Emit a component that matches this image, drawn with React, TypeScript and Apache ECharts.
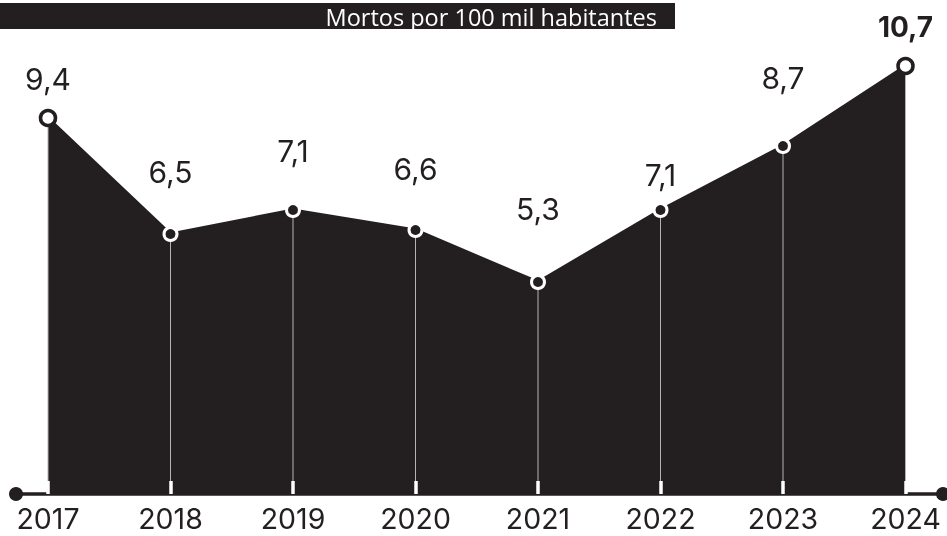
import React, { useEffect, useRef } from "react";
import * as echarts from "echarts";

const years = ["2017", "2018", "2019", "2020", "2021", "2022", "2023", "2024"];
const rates = [9.4, 6.5, 7.1, 6.6, 5.3, 7.1, 8.7, 10.7];
const unitTitle = "Mortos por 100 mil habitantes";

// styling: vertical shift of each value label relative to its point
const labelShift = [-39, -62, -59, -61, -73, -35, -68, -39];

const INK = "#231f20";

const fmt = (v: number) => v.toFixed(1).replace(".", ",");

export default function App() {
  const ref = useRef<HTMLDivElement>(null);

  useEffect(() => {
    if (!ref.current) return;
    const chart = echarts.init(ref.current, undefined, { renderer: "svg" });
    const last = rates.length - 1;

    const pointData = rates.map((v, i) => {
      const isEnd = i === 0 || i === last;
      return {
        value: v,
        symbolSize: isEnd ? 15 : 13,
        itemStyle: isEnd
          ? { color: "#ffffff", borderColor: INK, borderWidth: 3.5 }
          : { color: INK, borderColor: "#ffffff", borderWidth: 3 },
        label: {
          show: true,
          position: "inside",
          offset: [0, labelShift[i]],
          formatter: () => fmt(v),
          fontFamily: "Inter",
          fontSize: i === last ? 28 : 30,
          fontWeight: i === last ? "bold" : "normal",
          color: INK,
          lineHeight: 30,
        },
      };
    });

    chart.setOption({
      animation: false,
      grid: [
        { left: 48, right: 41.5, top: 14, bottom: 42 },
        { left: 16, right: 4, top: 14, bottom: 42 },
      ],
      xAxis: [
        {
          type: "category",
          data: years,
          boundaryGap: false,
          gridIndex: 0,
          z: 10,
          axisLine: { show: false },
          axisTick: {
            show: true,
            inside: true,
            length: 13,
            interval: 0,
            lineStyle: { color: "#ffffff", width: 3.5 },
          },
          axisLabel: {
            interval: 0,
            margin: 12,
            fontFamily: "Inter",
            fontSize: 28.5,
            lineHeight: 25,
            color: INK,
          },
          splitLine: { show: false },
        },
        {
          type: "value",
          gridIndex: 1,
          min: 0,
          max: 1,
          z: 9,
          axisLine: {
            show: true,
            symbol: ["circle", "circle"],
            symbolSize: [14, 14],
            lineStyle: { color: INK, width: 3.5 },
          },
          axisTick: { show: false },
          axisLabel: { show: false },
          splitLine: { show: false },
        },
      ],
      yAxis: [
        { type: "value", gridIndex: 0, min: 0, max: 12, show: false },
        { type: "value", gridIndex: 1, min: 0, max: 1, show: false },
      ],
      graphic: [
        {
          type: "rect",
          left: 0,
          top: 3,
          shape: { width: 675, height: 26 },
          style: { fill: INK },
          z: 20,
        },
        {
          type: "text",
          x: 657,
          y: 17,
          z: 21,
          style: {
            text: unitTitle,
            align: "right",
            verticalAlign: "middle",
            fontFamily: "Open Sans",
            fontSize: 23.5,
            fill: "#ffffff",
          },
        },
      ],
      series: [
        {
          type: "line",
          data: rates,
          xAxisIndex: 0,
          yAxisIndex: 0,
          z: 1,
          symbol: "none",
          lineStyle: { color: INK, width: 3 },
          areaStyle: { color: INK, opacity: 1 },
          silent: true,
        },
        {
          type: "bar",
          data: rates,
          xAxisIndex: 0,
          yAxisIndex: 0,
          z: 2,
          barWidth: 1,
          itemStyle: { color: "#b4b4b4" },
          silent: true,
        },
        {
          type: "line",
          data: pointData,
          xAxisIndex: 0,
          yAxisIndex: 0,
          z: 3,
          symbol: "circle",
          lineStyle: { width: 0, opacity: 0 },
          emphasis: { disabled: true },
          silent: true,
        },
      ],
    });

    return () => chart.dispose();
  }, []);

  return (
    <div
      ref={ref}
      style={{ position: "fixed", left: 0, top: 0, width: 947, height: 536 }}
    />
  );
}
